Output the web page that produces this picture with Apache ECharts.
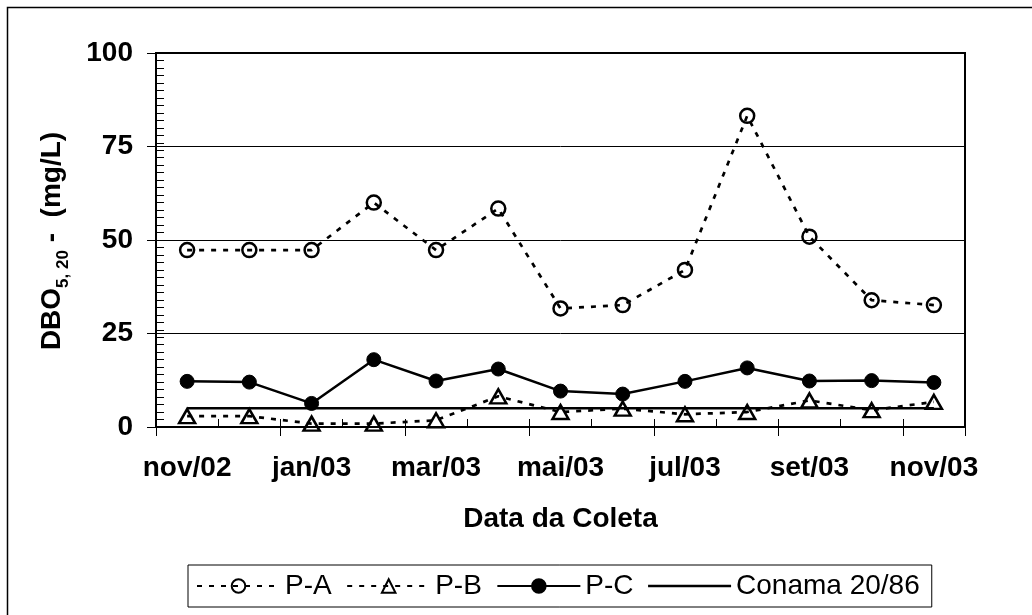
<!DOCTYPE html>
<html><head><meta charset="utf-8">
<script src="https://cdn.jsdelivr.net/npm/echarts@6/dist/echarts.min.js"></script>
<style>html,body{margin:0;padding:0;background:#fff}#c{width:1032px;height:615px}</style>
</head><body><div id="c"></div>
<script>
const categories = ['nov/02','dez/02','jan/03','fev/03','mar/03','abr/03','mai/03','jun/03','jul/03','ago/03','set/03','out/03','nov/03'];
const paValues = [47.3,47.3,47.3,60.0,47.3,58.4,31.7,32.6,42.0,83.2,50.9,33.9,32.6];
const pbValues = [2.9,2.9,0.9,0.9,1.8,8.2,4.0,4.9,3.4,4.0,7.1,4.5,6.7];
const pcValues = [12.2,12.0,6.3,18.0,12.3,15.5,9.6,8.8,12.2,15.8,12.3,12.4,11.9];
const conamaValues = [5,5,5,5,5,5,5,5,5,5,5,5,5];
const seriesNames = ['P-A','P-B','P-C','Conama 20/86'];
const yMin = 0, yMax = 100, yStep = 25, yMinorStep = 2;
const xTitle = 'Data da Coleta';

const FF = "'Liberation Sans', Arial, sans-serif";
const chart = echarts.init(document.getElementById('c'), null, {renderer:'canvas'});
const black = '#000';
const option = {
  backgroundColor: '#fff',
  animation: false,
  textStyle: {fontFamily: FF},
  grid: {left:156, top:53, right:67, bottom:188, show:true, borderColor:black, borderWidth:2, backgroundColor:'transparent'},
  graphic: [
    {type:'rect', shape:{x:7.5, y:7.5, width:1100, height:700}, style:{fill:'none', stroke:black, lineWidth:1.5}, silent:true, z:-1},
    {type:'text', x:52, y:241, rotation:Math.PI/2,
     style:{text:'{b|DBO}{s|5, 20}{b| -  (mg/L)}', align:'center', verticalAlign:'middle', fill:black,
       rich:{
         b:{fontSize:28, fontWeight:'bold', fontFamily:FF, lineHeight:40, verticalAlign:'middle', fill:black},
         s:{fontSize:17, fontWeight:'bold', fontFamily:FF, lineHeight:18, verticalAlign:'bottom', fill:black}
       }}}
  ],
  legend: {
    left:188, top:565, padding:[7,12,7,8], itemWidth:83, itemHeight:17, itemGap:14.5,
    borderColor:black, borderWidth:1, borderRadius:0, backgroundColor:'#fff',
    selectedMode:false,
    textStyle:{fontSize:28, color:black, fontFamily:FF},
    data:[
      {name:seriesNames[0]},{name:seriesNames[1]},{name:seriesNames[2]},
      {name:seriesNames[3], icon:'path://M0,0H83V2.5H0Z'}
    ]
  },
  xAxis: [
    {type:'category', data:categories, boundaryGap:true, position:'bottom',
     axisLine:{lineStyle:{color:black, width:2}},
     axisTick:{show:true, interval:1, length:9, inside:false, lineStyle:{color:black, width:1}},
     axisLabel:{interval:1, margin:27, fontSize:28, fontWeight:'bold', color:black, fontFamily:FF},
     splitLine:{show:false},
     name:xTitle, nameLocation:'middle', nameGap:78,
     nameTextStyle:{fontSize:28, fontWeight:'bold', color:black, fontFamily:FF}},
    {type:'category', data:categories, boundaryGap:true, position:'bottom',
     axisLine:{show:false},
     axisTick:{show:true, interval:0, length:8, inside:true, lineStyle:{color:black, width:1}},
     axisLabel:{show:false}, splitLine:{show:false}}
  ],
  yAxis: [
    {type:'value', min:yMin, max:yMax, interval:yStep, position:'left',
     axisLine:{show:true, lineStyle:{color:black, width:2}},
     axisTick:{show:true, length:9, inside:false, lineStyle:{color:black, width:1}},
     axisLabel:{margin:23, fontSize:28, fontWeight:'bold', color:black, fontFamily:FF},
     splitLine:{show:true, lineStyle:{color:black, width:1}}},
    {type:'value', min:yMin, max:yMax, interval:yMinorStep, position:'left',
     axisLine:{show:false},
     axisTick:{show:true, length:8, inside:true, lineStyle:{color:black, width:1}},
     axisLabel:{show:false}, splitLine:{show:false}}
  ],
  series: [
    {name:seriesNames[0], type:'line', data:paValues, symbol:'circle', symbolSize:14,
     itemStyle:{color:'rgba(0,0,0,0)', borderColor:black, borderWidth:2.5},
     lineStyle:{color:black, width:2.7, type:[5,7]}, z:3},
    {name:seriesNames[1], type:'line', data:pbValues, symbol:'triangle', symbolSize:[16,14],
     itemStyle:{color:'rgba(0,0,0,0)', borderColor:black, borderWidth:2.5},
     lineStyle:{color:black, width:2.7, type:[5,7]}, z:3},
    {name:seriesNames[2], type:'line', data:pcValues, symbol:'circle', symbolSize:14,
     itemStyle:{color:black, borderColor:black, borderWidth:1},
     lineStyle:{color:black, width:2.5, type:'solid'}, z:3},
    {name:seriesNames[3], type:'line', data:conamaValues, symbol:'none', showSymbol:false,
     itemStyle:{color:black},
     lineStyle:{color:black, width:2.5, type:'solid'}, z:4}
  ]
};
chart.setOption(option);
</script>
</body></html>
